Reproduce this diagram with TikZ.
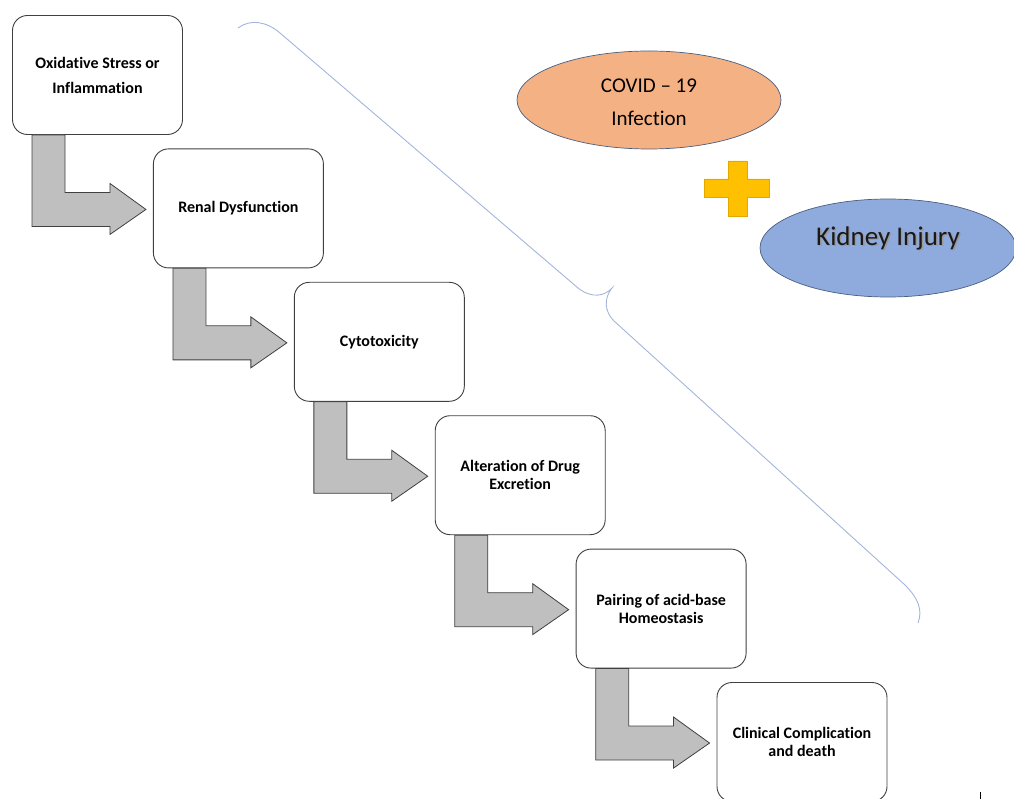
\documentclass[tikz,border=0pt]{standalone}
\usepackage{fontspec}
\setmainfont{Carlito}[Ligatures={NoCommon}]
\usetikzlibrary{positioning,calc,shapes.geometric}

\definecolor{covid}{HTML}{F4B183}
\definecolor{kidney}{HTML}{8FAADC}
\definecolor{plusfill}{HTML}{FFC000}
\definecolor{plusedge}{HTML}{E0A800}
\definecolor{braceblue}{HTML}{A3B5DC}
\definecolor{rimblue}{HTML}{4A5F80}

\begin{document}
\begin{tikzpicture}[x=1pt,y=-1pt,
  stage/.style={draw=black!75,line width=0.9pt,rounded corners=15pt,fill=white,
    minimum width=170pt,minimum height=119pt,align=center,
    font=\bfseries\fontsize{16}{18}\selectfont},
  bent/.style={draw=black!75,line width=0.8pt,fill=gray!50,line join=miter},
  blob/.style={ellipse,draw=rimblue,line width=0.7pt,inner sep=0pt}]

  \useasboundingbox (0,0) rectangle (1014,799);

  % chain of stages
  \node[stage] (stress) at (97.5,75) {Oxidative Stress or\\[7pt]Inflammation};
  \node[stage,below right=13.5pt and -30pt of stress] (renal) {Renal Dysfunction};
  \node[stage,below right=13.5pt and -30pt of renal] (cyto) {Cytotoxicity};
  \node[stage,below right=13.5pt and -30pt of cyto] (drug) {Alteration of Drug\\Excretion};
  \node[stage,below right=13.5pt and -30pt of drug] (acid) {Pairing of acid-base\\Homeostasis};
  \node[stage,below right=13.5pt and -30pt of acid] (death) {Clinical Complication\\and death};

  % bent block arrows
  \foreach \a/\b in {stress/renal,renal/cyto,cyto/drug,drug/acid,acid/death} {
    \coordinate (s) at ($(\a.south west)+(20,0)$);
    \coordinate (h) at ($(\b.north west)+(-43,44)$);
    \coordinate (hb) at ($(\b.north west)+(-43,78)$);
    \draw[bent] (s) -- ++(33,0) |- (h) -- ++(0,-9) -- ++(36,26) -- ++(-36,25)
      -- (hb) -- (s |- hb) -- cycle;
  }

  % big curly brace
  \draw[braceblue,line width=0.9pt]
    (238,28) .. controls (250,19) and (266,21) .. (280,33) -- (578,288)
    .. controls (592,299) and (605,296) .. (612,288)
    .. controls (604,298) and (604,311) .. (614,321) -- (905,585)
    .. controls (918,598) and (923,610) .. (918,623);

  % covid + kidney
  \node[blob,fill=covid,minimum width=264pt,minimum height=98pt] (covid) at (649,100) {};
  \node[font=\fontsize{21}{33}\selectfont,align=center] (covidtxt) at ($(covid)+(0,2)$)
    {COVID -- 19\\Infection};

  \draw[plusedge,fill=plusfill,line width=0.7pt]
    (728,161) -- (747,161) -- (747,179) -- (769,179) -- (769,197) -- (747,197)
    -- (747,216) -- (728,216) -- (728,197) -- (704,197) -- (704,179) -- (728,179) -- cycle;

  \node[blob,fill=kidney,minimum width=256pt,minimum height=98pt] (kidney) at (888,248) {};
  \node[font=\fontsize{27}{30}\selectfont,text=black!40] (kidneyshade) at ($(kidney)+(1.5,-8.5)$) {Kidney Injury};
  \node[font=\fontsize{27}{30}\selectfont,text=black!90] (kidneytxt) at ($(kidney)+(0,-10)$) {Kidney Injury};

  \draw[line width=0.6pt] (980,792) -- (980,799);

\end{tikzpicture}
\end{document}
